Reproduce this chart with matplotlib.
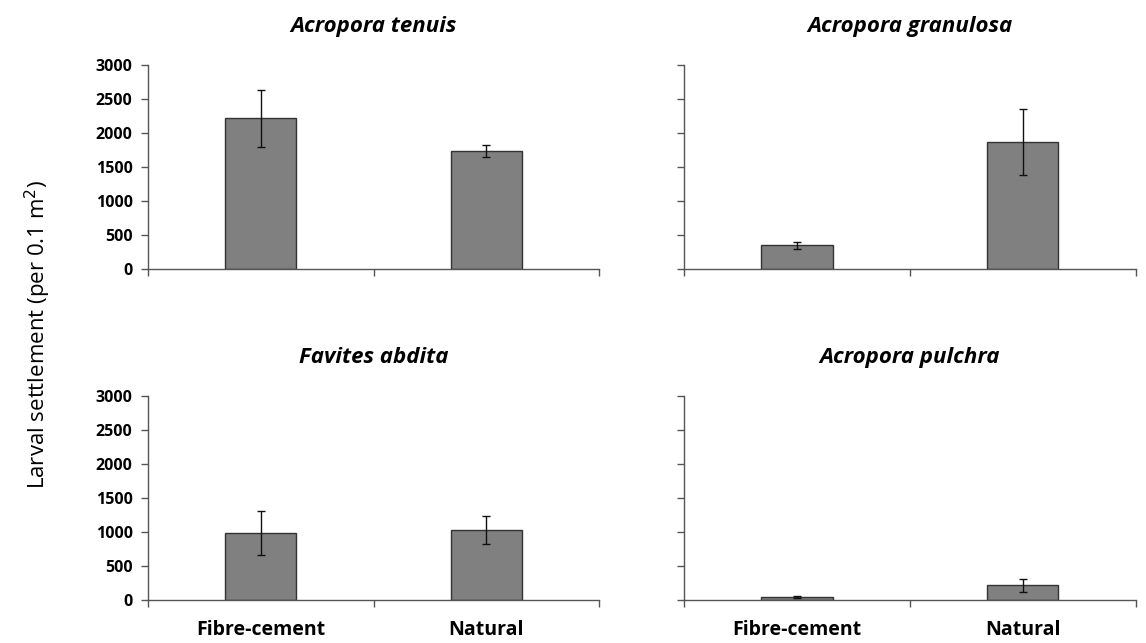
import matplotlib
matplotlib.use("Agg")
import matplotlib.pyplot as plt
import numpy as np

species = ["Acropora tenuis", "Acropora granulosa", "Favites abdita", "Acropora pulchra"]
categories = ["Fibre-cement", "Natural"]
means = [
    [2220, 1740],
    [350, 1870],
    [985, 1030],
    [45, 215],
]
errors = [
    [420, 90],
    [50, 480],
    [320, 210],
    [15, 95],
]
yticks = [0, 500, 1000, 1500, 2000, 2500, 3000]

plt.rcParams['font.family'] = ['Open Sans', 'DejaVu Sans']

fig = plt.figure(figsize=(11.46, 6.43), dpi=100)
positions = [
    [0.129, 0.5817, 0.394, 0.317],
    [0.597, 0.5817, 0.394, 0.317],
    [0.129, 0.0669, 0.394, 0.317],
    [0.597, 0.0669, 0.394, 0.317],
]

x = np.arange(len(categories))
for i, (sp, pos) in enumerate(zip(species, positions)):
    ax = fig.add_axes(pos)
    ax.bar(x, means[i], width=0.315, color="#808080", edgecolor="#333333", linewidth=1.0, zorder=2)
    ax.errorbar(x, means[i], yerr=errors[i], fmt="none", ecolor="#111111", elinewidth=1.0,
                capsize=3, capthick=1.0, zorder=3)
    ax.set_xlim(-0.5, len(categories) - 0.5)
    ax.set_ylim(0, 3000)
    ax.set_yticks(yticks)
    for s in ["top", "right"]:
        ax.spines[s].set_visible(False)
    for s in ["left", "bottom"]:
        ax.spines[s].set_color("#555555")
        ax.spines[s].set_linewidth(1.0)
    # category boundaries as ticks (Excel style)
    ax.set_xticks(np.arange(-0.5, len(categories), 1.0))
    ax.set_xticklabels([])
    ax.tick_params(axis="x", direction="out", length=5, color="#555555", width=1.0)
    ax.tick_params(axis="y", direction="out", length=5, color="#555555", width=1.0, pad=6)
    if i % 2 == 0:
        ax.set_yticklabels([str(t) for t in yticks], fontsize=11.5, fontweight="bold")
    else:
        ax.set_yticklabels([])
    if i >= 2:
        for xi, c in zip(x, categories):
            ax.text(xi, -0.10, c, transform=ax.get_xaxis_transform(), ha="center", va="top",
                    fontsize=14, fontweight="bold")
    ax.set_title(sp, fontsize=16, fontweight="bold", fontstyle="italic", pad=24)

fig.text(0.033, 0.48, "Larval settlement (per 0.1 m$^2$)", rotation=90, ha="center", va="center",
         fontsize=16)

fig.savefig("out.png", dpi=100)
